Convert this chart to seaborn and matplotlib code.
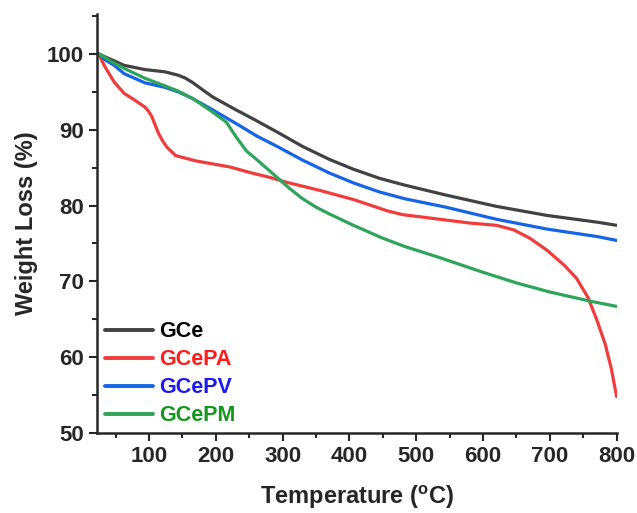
import pandas as pd
import matplotlib.pyplot as plt
import seaborn as sns
from matplotlib.ticker import MultipleLocator

# TGA curves
temp_gce = [25, 35, 48, 63, 94, 124, 144, 155, 166, 180, 196, 231, 261, 292, 330, 370, 406, 445, 483, 544, 620, 696, 772, 800]
wt_gce = [100, 99.6, 99.1, 98.5, 97.95, 97.65, 97.2, 96.8, 96.2, 95.3, 94.3, 92.6, 91.2, 89.7, 87.8, 86.1, 84.8, 83.6, 82.7, 81.4, 79.9, 78.7, 77.8, 77.4]

temp_gcepa = [25, 33, 48, 63, 79, 94, 99, 104, 109, 114, 120, 127, 140, 170, 221, 254, 282, 305, 356, 406, 430, 457, 480, 508,
              544, 580, 620, 646, 670, 696, 722, 740, 757, 770, 783, 792, 800]
wt_gcepa = [100, 98.5, 96.3, 94.8, 93.9, 93.0, 92.5, 91.8, 90.7, 89.6, 88.6, 87.7, 86.6, 85.9, 85.1, 84.3, 83.7, 83.1, 82.0, 80.8, 80.1, 79.3, 78.8, 78.5,
            78.1, 77.7, 77.4, 76.8, 75.7, 74.1, 72.1, 70.4, 67.9, 65.0, 61.7, 58.5, 54.8]

temp_gcepv = [25, 35, 48, 63, 94, 124, 144, 166, 196, 231, 261, 292, 330, 370, 406, 445, 483, 544, 620, 696, 772, 800]
wt_gcepv = [100, 99.2, 98.5, 97.4, 96.2, 95.6, 95.0, 94.1, 92.6, 90.8, 89.2, 87.8, 86.0, 84.3, 83.0, 81.8, 80.9, 79.8, 78.2, 76.9, 75.9, 75.4]

temp_gcepm = [25, 35, 48, 63, 94, 124, 144, 166, 196, 216, 231, 246, 261, 292, 310, 330, 350, 370, 406, 450, 483, 533, 600, 650, 700, 760, 800]
wt_gcepm = [100, 99.5, 98.8, 98.1, 96.8, 95.8, 95.1, 94.1, 92.3, 91.0, 89.0, 87.2, 86.1, 83.7, 82.3, 80.9, 79.8, 78.9, 77.4, 75.7, 74.6, 73.2, 71.2, 69.8, 68.6, 67.4, 66.7]

names = ["GCe", "GCePA", "GCePV", "GCePM"]
line_colors = ["#424242", "#F03C3C", "#1565E6", "#2EA55A"]
text_colors = ["#000000", "#FF1A1A", "#1A1AF0", "#14961E"]


def main():
    frames = []
    for name, t, w in zip(names,
                          [temp_gce, temp_gcepa, temp_gcepv, temp_gcepm],
                          [wt_gce, wt_gcepa, wt_gcepv, wt_gcepm]):
        frames.append(pd.DataFrame({"Temperature": t, "Weight": w, "Sample": name}))
    df = pd.concat(frames, ignore_index=True)

    sns.set_style("ticks")
    plt.rcParams['font.family'] = ['Liberation Sans', 'DejaVu Sans']
    plt.rcParams['font.weight'] = 'bold'

    fig = plt.figure(figsize=(6.37, 5.13), dpi=100)
    ax = fig.add_axes([0.152, 0.156, 0.816, 0.817])
    sns.lineplot(data=df, x="Temperature", y="Weight", hue="Sample",
                 palette=dict(zip(names, line_colors)), linewidth=2.3,
                 sort=False, ax=ax)
    for ln in ax.get_lines():
        ln.set_solid_joinstyle('round')

    ax.set_xlim(22, 800)
    ax.set_ylim(50, 105.3)
    ax.xaxis.set_minor_locator(MultipleLocator(50))
    ax.yaxis.set_minor_locator(MultipleLocator(5))
    ax.set_xticks([100, 200, 300, 400, 500, 600, 700, 800])
    ax.set_yticks([50, 60, 70, 80, 90, 100])
    ax.tick_params(which='major', direction='out', length=6, width=1.5, labelsize=16)
    ax.tick_params(which='minor', direction='out', length=3.5, width=1.5)
    for lab in ax.get_xticklabels() + ax.get_yticklabels():
        lab.set_fontweight('bold')
    sns.despine(ax=ax)
    for s in ["left", "bottom"]:
        ax.spines[s].set_linewidth(1.8)

    ax.set_xlabel("Temperature ($\\mathregular{^{o}}$C)", fontsize=17, fontweight='bold', labelpad=12)
    ax.set_ylabel("Weight Loss (%)", fontsize=17, fontweight='bold', labelpad=6)

    leg = ax.legend(loc='lower left', frameon=False, fontsize=15.5, handlelength=2.2,
                    handletextpad=0.3, labelspacing=0.33, borderaxespad=0.0,
                    bbox_to_anchor=(0.0, -0.005))
    for txt, col in zip(leg.get_texts(), text_colors):
        txt.set_color(col)
        txt.set_fontweight('bold')
    for h in leg.get_lines():
        h.set_linewidth(2.8)

    plt.savefig("out.png", dpi=100)


if __name__ == "__main__":
    main()
